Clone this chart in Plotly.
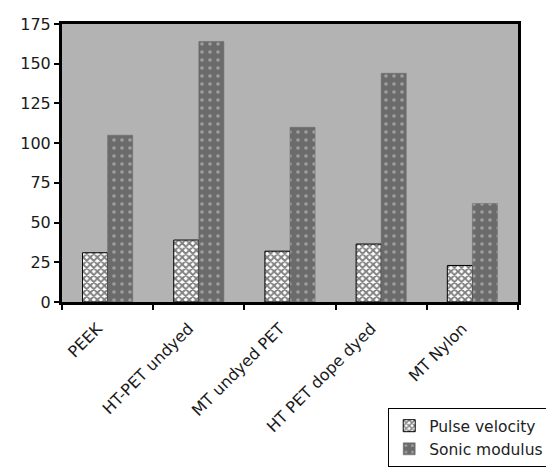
import plotly.graph_objects as go

# Fibre samples and their measured values
categories = ["PEEK", "HT-PET undyed", "MT undyed PET", "HT PET dope dyed", "MT Nylon"]
pulse_velocity = [31, 39, 32, 36.5, 23]
sonic_modulus = [105, 164, 110, 144, 62]
y_ticks = [0, 25, 50, 75, 100, 125, 150, 175]

FONT = "DejaVu Sans, Verdana, sans-serif"

fig = go.Figure()
fig.add_trace(go.Bar(
    name="Pulse velocity",
    x=categories, y=pulse_velocity,
    marker=dict(
        color="white",
        line=dict(color="black", width=1),
        pattern=dict(shape="x", fgcolor="black", bgcolor="white", size=5, solidity=0.6),
    ),
))
fig.add_trace(go.Bar(
    name="Sonic modulus",
    x=categories, y=sonic_modulus,
    marker=dict(
        color="#6b6b6b",
        line=dict(color="#6b6b6b", width=0.5),
        pattern=dict(shape=".", fgcolor="#d4d4d4", bgcolor="#6b6b6b", size=8, solidity=0.15),
    ),
))

fig.update_layout(
    width=546, height=474,
    margin=dict(l=62, r=28, t=24, b=172, autoexpand=False),
    paper_bgcolor="white",
    plot_bgcolor="#b3b3b3",
    barmode="group",
    bargap=0.45,
    bargroupgap=0,
    font=dict(family=FONT, size=16, color="#1a1a1a"),
    showlegend=True,
    legend=dict(
        xref="container", yref="container",
        x=0.711, y=0.139, xanchor="left", yanchor="top",
        bgcolor="white", bordercolor="black", borderwidth=1,
        font=dict(family=FONT, size=15.5, color="#222"),
        itemwidth=30,
        tracegroupgap=2,
    ),
)
fig.update_yaxes(
    range=[0, 175], tickvals=y_ticks,
    showgrid=False, zeroline=False,
    showline=True, linecolor="black", linewidth=3, mirror=True,
    ticks="outside", ticklen=5, tickwidth=1.5, tickcolor="black",
    tickfont=dict(family=FONT, size=16, color="#1a1a1a"),
)
fig.update_xaxes(
    showgrid=False,
    showline=True, linecolor="black", linewidth=3, mirror=True,
    ticks="outside", ticklen=5, tickwidth=1.5, tickcolor="black",
    tickson="boundaries",
    tickangle=-45,
    ticklabelstandoff=8,
    ticklabelshift=-10,
    tickfont=dict(family=FONT, size=16, color="#1a1a1a"),
)

fig.write_html("out.html")
